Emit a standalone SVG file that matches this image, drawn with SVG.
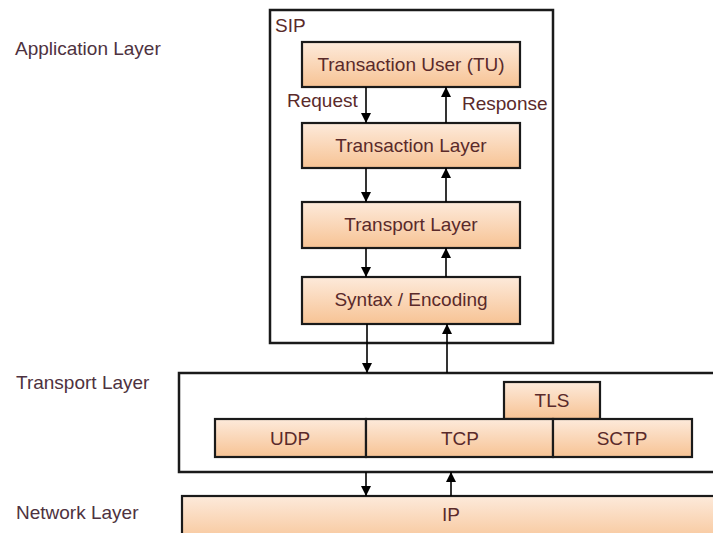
<svg xmlns="http://www.w3.org/2000/svg" width="713" height="533" viewBox="0 0 713 533">
<defs>
<linearGradient id="peach" x1="0" y1="0" x2="0" y2="1">
<stop offset="0" stop-color="#fdeadb"/>
<stop offset="1" stop-color="#f7c394"/>
</linearGradient>
<marker id="ah" viewBox="0 0 10 10" refX="10" refY="5" markerWidth="10" markerHeight="10" markerUnits="userSpaceOnUse" orient="auto">
<path d="M0,0 L10,5 L0,10 z" fill="#000"/>
</marker>
<style>
.box{fill:url(#peach);stroke:#1a1a1a;stroke-width:2.2}
.frame{fill:#fff;stroke:#1a1a1a;stroke-width:2.5}
.t{font-family:"Liberation Sans",Arial,sans-serif;font-size:19px;fill:#5a2a2a;text-anchor:middle}
.side{font-family:"Liberation Sans",Arial,sans-serif;font-size:19px;fill:#4e3240}
.lbl{font-family:"Liberation Sans",Arial,sans-serif;font-size:19px;fill:#5a2a2a}
.c{stroke:#000;stroke-width:1.6;fill:none;marker-end:url(#ah)}
</style>
</defs>
<rect width="713" height="533" fill="#fff"/>
<text class="side" x="15" y="55">Application Layer</text>
<text class="side" x="16" y="389">Transport Layer</text>
<text class="side" x="16" y="519">Network Layer</text>

<g id="sip">
<rect class="frame" x="270" y="10" width="283" height="333"/>
<text class="lbl" x="275" y="32">SIP</text>
</g>
<g id="tu">
<rect class="box" x="302" y="42" width="218" height="45"/>
<text class="t" x="411" y="71">Transaction User (TU)</text>
</g>
<g id="transaction">
<rect class="box" x="302" y="123" width="218" height="45"/>
<text class="t" x="411" y="152">Transaction Layer</text>
</g>
<g id="transport-sip">
<rect class="box" x="302" y="202" width="218" height="46"/>
<text class="t" x="411" y="231">Transport Layer</text>
</g>
<g id="syntax">
<rect class="box" x="302" y="277" width="218" height="47"/>
<text class="t" x="411" y="306">Syntax / Encoding</text>
</g>

<g id="transport">
<rect class="frame" x="179" y="373" width="545" height="99"/>
</g>
<g id="tls">
<rect class="box" x="504" y="382" width="96" height="37"/>
<text class="t" x="552" y="407">TLS</text>
</g>
<g id="udp">
<rect class="box" x="215" y="419" width="151" height="38"/>
<text class="t" x="290" y="445">UDP</text>
</g>
<g id="tcp">
<rect class="box" x="366" y="419" width="187" height="38"/>
<text class="t" x="460" y="445">TCP</text>
</g>
<g id="sctp">
<rect class="box" x="553" y="419" width="139" height="38"/>
<text class="t" x="622" y="445">SCTP</text>
</g>
<g id="ip">
<rect class="box" x="182" y="496" width="545" height="50"/>
<text class="t" x="451" y="521">IP</text>
</g>

<g id="connectors">
<line class="c" x1="366" y1="87" x2="366" y2="123"/>
<line class="c" x1="446" y1="123" x2="446" y2="87"/>
<line class="c" x1="366" y1="168" x2="366" y2="202"/>
<line class="c" x1="446" y1="202" x2="446" y2="168"/>
<line class="c" x1="366" y1="248" x2="366" y2="277"/>
<line class="c" x1="446" y1="277" x2="446" y2="248"/>
<line class="c" x1="367" y1="324" x2="367" y2="373"/>
<line class="c" x1="447" y1="373" x2="447" y2="324"/>
<line class="c" x1="366" y1="472" x2="366" y2="496"/>
<line class="c" x1="451" y1="496" x2="451" y2="472"/>
<text class="lbl" x="287" y="107">Request</text>
<text class="lbl" x="462" y="110">Response</text>
</g>
</svg>
